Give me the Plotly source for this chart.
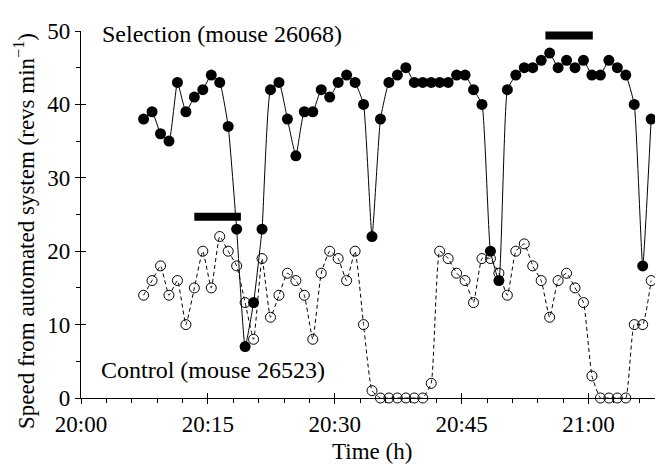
import plotly.graph_objects as go

# Sampling times (minutes after 20:00)
minutes = [7.4, 8.4, 9.4, 10.4, 11.4, 12.4, 13.4, 14.4, 15.4, 16.4,
           17.4, 18.4, 19.4, 20.4, 21.4, 22.4, 23.4, 24.4, 25.4, 26.4,
           27.4, 28.4, 29.4, 30.4, 31.4, 32.4, 33.4, 34.4, 35.4, 36.4,
           37.4, 38.4, 39.4, 40.4, 41.4, 42.4, 43.4, 44.4, 45.4, 46.4,
           47.4, 48.4, 49.4, 50.4, 51.4, 52.4, 53.4, 54.4, 55.4, 56.4,
           57.4, 58.4, 59.4, 60.4, 61.4, 62.4, 63.4, 64.4, 65.4, 66.4,
           67.4]

selection = [38, 39, 36, 35, 43, 39, 41, 42, 44, 43,
             37, 23, 7, 13, 23, 42, 43, 38, 33, 39,
             39, 42, 41, 43, 44, 43, 40, 22, 38, 43,
             44, 45, 43, 43, 43, 43, 43, 44, 44, 42,
             40, 20, 16, 42, 44, 45, 45, 46, 47, 45,
             46, 45, 46, 44, 44, 46, 45, 44, 40, 18,
             38]

control = [14, 16, 18, 14, 16, 10, 15, 20, 15, 22,
           20, 18, 13, 8, 19, 11, 14, 17, 16, 14,
           8, 17, 20, 19, 16, 20, 10, 1, 0, 0,
           0, 0, 0, 0, 2, 20, 19, 17, 16, 13,
           19, 19, 17, 14, 20, 21, 18, 16, 11, 16,
           17, 15, 13, 3, 0, 0, 0, 0, 10, 10,
           16]

# Horizontal black bars (start minute, end minute, level)
bar_starts = [13.4, 54.9]
bar_ends = [18.9, 60.5]
bar_levels = [24.7, 49.4]

tick_vals = [0, 15, 30, 45, 60]
tick_text = ["20:00", "20:15", "20:30", "20:45", "21:00"]
y_ticks = [0, 10, 20, 30, 40, 50]

FONT = "Liberation Serif, Times New Roman, DejaVu Serif, serif"

fig = go.Figure()

fig.add_trace(go.Scatter(
    x=minutes, y=control, mode="lines+markers",
    line=dict(color="black", width=1, dash="4px,3px", shape="spline", smoothing=0.4),
    marker=dict(symbol="circle-open", size=10, color="black", line=dict(width=1)),
    showlegend=False, cliponaxis=False))

fig.add_trace(go.Scatter(
    x=minutes, y=selection, mode="lines+markers",
    line=dict(color="black", width=1, shape="spline", smoothing=0.4),
    marker=dict(symbol="circle", size=11, color="black"),
    showlegend=False, cliponaxis=False))

for s, e, lv in zip(bar_starts, bar_ends, bar_levels):
    fig.add_trace(go.Scatter(
        x=[s, e], y=[lv, lv], mode="lines",
        line=dict(color="black", width=8), showlegend=False, cliponaxis=False))

fig.add_annotation(x=0, y=0.993, xref="x", yref="paper", xshift=19,
                   text="Selection (mouse 26068)", showarrow=False,
                   xanchor="left", yanchor="middle",
                   font=dict(family=FONT, size=24, color="black"))
fig.add_annotation(x=0, y=0.076, xref="x", yref="paper", xshift=18,
                   text="Control (mouse 26523)", showarrow=False,
                   xanchor="left", yanchor="middle",
                   font=dict(family=FONT, size=24, color="black"))
# axis titles
fig.add_annotation(x=0.5, y=-0.147, xref="paper", yref="paper",
                   text="Time (h)", showarrow=False,
                   xanchor="center", yanchor="middle",
                   font=dict(family=FONT, size=23, color="black"))
fig.add_annotation(x=0, y=0.455, xref="paper", yref="paper", xshift=-57,
                   text="Speed from automated system (revs min<sup>\u22121</sup>)",
                   textangle=-90, showarrow=False,
                   xanchor="center", yanchor="middle",
                   font=dict(family=FONT, size=23, color="black"))

fig.update_layout(
    width=655, height=462,
    margin=dict(l=73, r=0, t=23, b=72),
    plot_bgcolor="white", paper_bgcolor="white",
    font=dict(family=FONT, size=23, color="black"),
    xaxis=dict(range=[0, 68.8], tickmode="array", tickvals=tick_vals, ticktext=tick_text,
               ticks="outside", ticklen=5, tickwidth=1, tickcolor="black",
               showline=True, linecolor="black", linewidth=1.2, showgrid=False, zeroline=False,
               minor=dict(dtick=3, ticks="outside", ticklen=4, tickcolor="black", showgrid=False),
               tickfont=dict(family=FONT, size=23), automargin=False),
    yaxis=dict(range=[0, 50], tickmode="array", tickvals=y_ticks,
               ticks="outside", ticklen=5, tickwidth=1, tickcolor="black",
               showline=True, linecolor="black", linewidth=1.2, showgrid=False, zeroline=False,
               minor=dict(dtick=5, ticks="outside", ticklen=4, tickcolor="black", showgrid=False),
               tickfont=dict(family=FONT, size=23), automargin=False),
    xaxis2=dict(overlaying="x", anchor="y", side="bottom", range=[0, 68.8],
                tickmode="array", tickvals=tick_vals, ticks="inside", ticklen=5,
                tickcolor="black", showticklabels=False, showline=False, showgrid=False,
                zeroline=False, automargin=False),
    yaxis2=dict(overlaying="y", anchor="x", side="left", range=[0, 50],
                tickmode="array", tickvals=y_ticks, ticks="inside", ticklen=5,
                tickcolor="black", showticklabels=False, showline=False, showgrid=False,
                zeroline=False, automargin=False),
)

# invisible trace to activate the overlay axes
fig.add_trace(go.Scatter(x=[0], y=[0], xaxis="x2", yaxis="y2", mode="markers",
                         marker=dict(opacity=0), showlegend=False, hoverinfo="skip"))

fig.write_html("out.html")
